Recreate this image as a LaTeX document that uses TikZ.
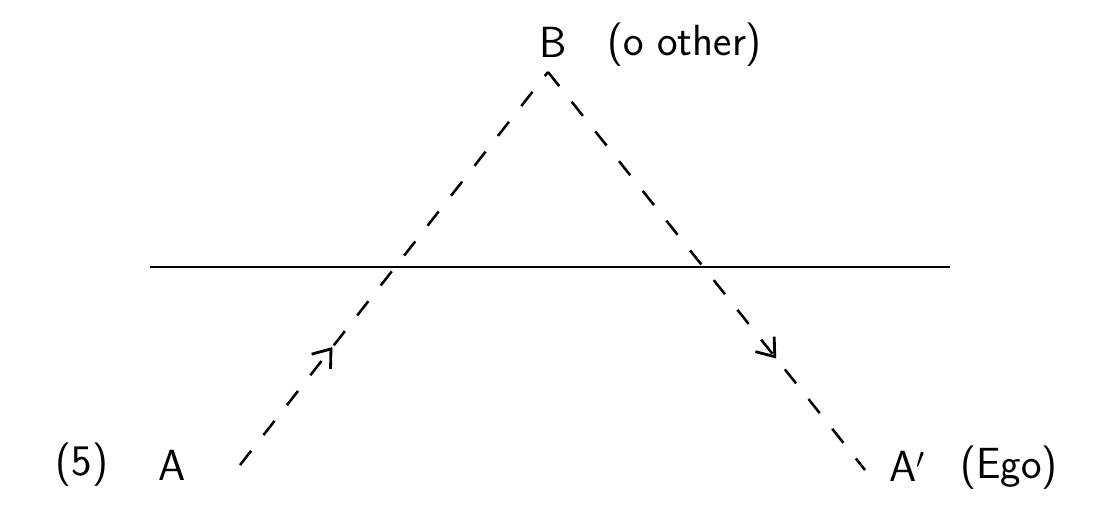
\documentclass[tikz,border=0pt]{standalone}
\usepackage{tikz}
\usetikzlibrary{arrows.meta, positioning, decorations.markings}

\begin{document}
\begin{tikzpicture}[
    x=0.025cm, y=-0.025cm,
    lbl/.style={
        font=\fontsize{31}{33}\selectfont\sffamily,
        inner sep=0pt
    },
    path/.style={line width=1.8pt,
        dash pattern=on 0.45cm off 0.5cm},
    flow/.style={postaction={decorate,
        decoration={markings,
        mark=at position #1 with {\arrow[line width=2pt]{Straight Barb[length=4mm,width=6mm]}}}}}
]
\useasboundingbox (0,0) rectangle (1102,515);

% ends of the two paths
\coordinate (a0) at (240,465);
\coordinate (b0) at (548,72);
\coordinate (a1) at (865,470);

% the bar
\coordinate (barl) at (150,267);
\coordinate (barr) at (950,267);
\draw[line width=1.4pt] (barl) -- (barr);

% labels
\node[lbl] (num) at (82,465) {(5)};
\node[lbl] (A)   at (172,465) {A};
\node[lbl] (B)   at (553,42)  {B};
\node[lbl, anchor=west] (Bx) at (607,45) {(o other)};
\node[lbl] (A1)  at (907,466) {A$'$};
\node[lbl, anchor=west] (A1x) at (960,468) {(Ego)};

\draw[path, flow=0.3] (a0) -- (b0);
\draw[path, flow=0.72] (b0) -- (a1);
\end{tikzpicture}
\end{document}
